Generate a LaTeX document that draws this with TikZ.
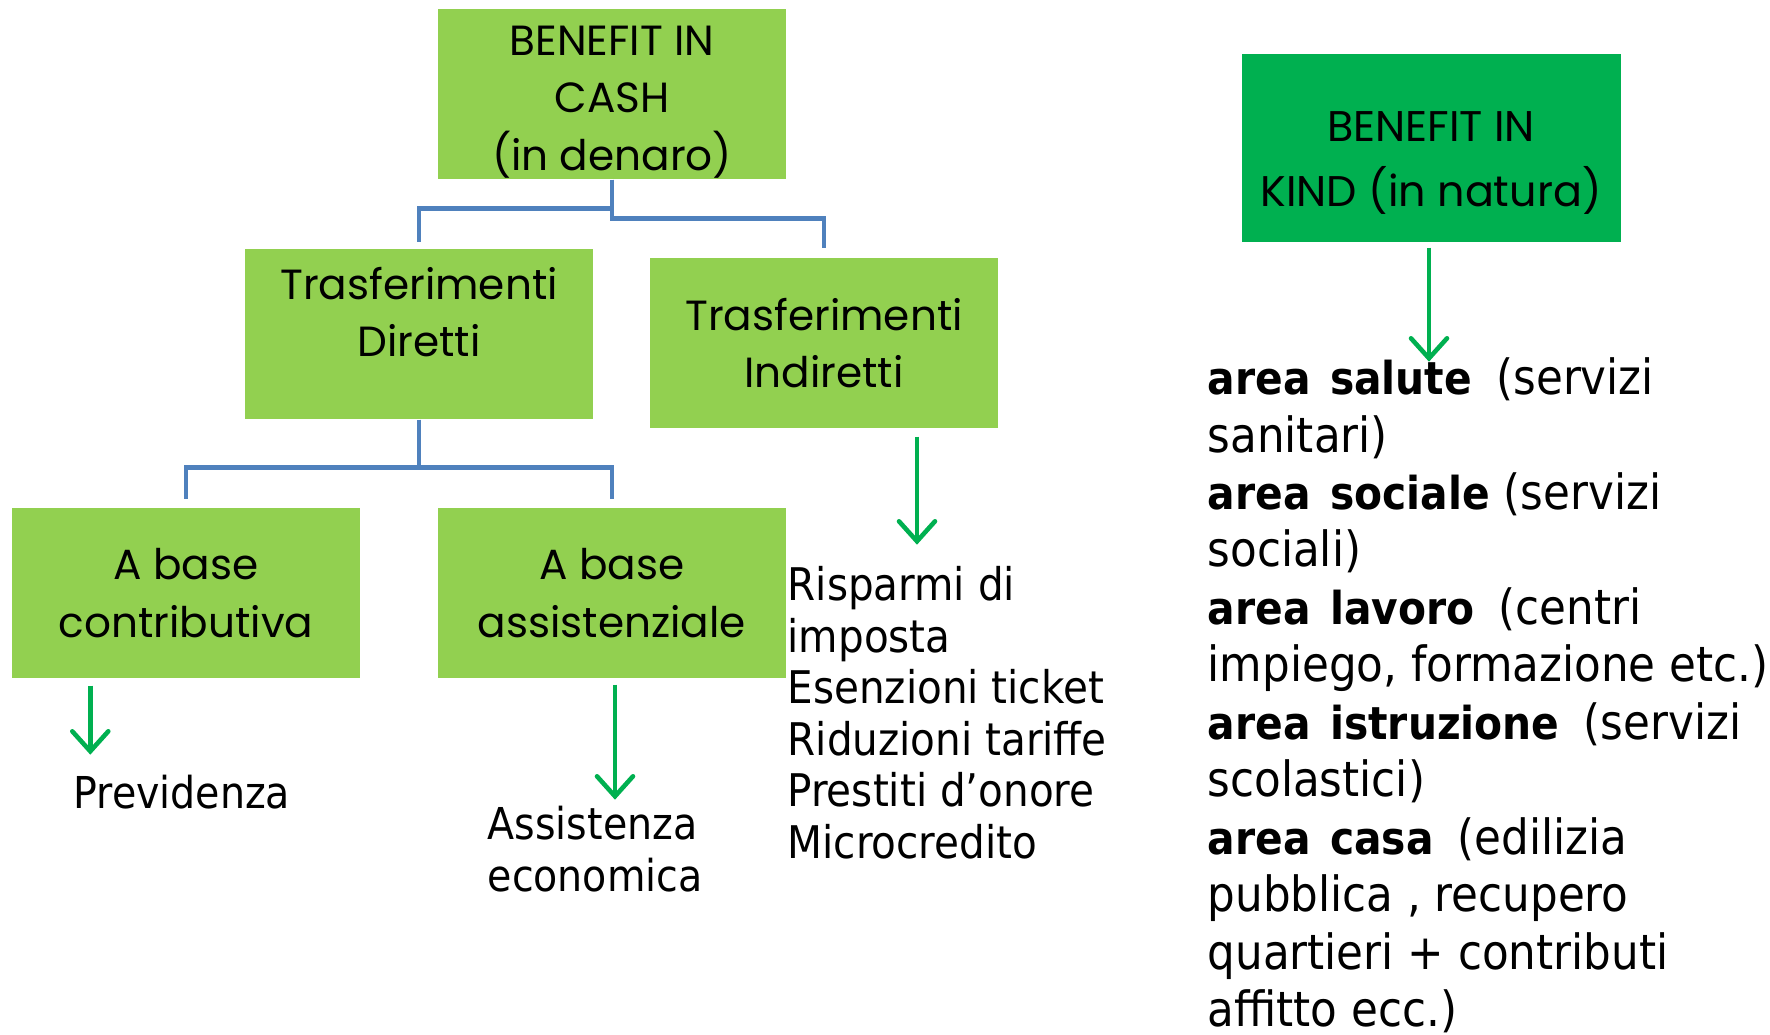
\documentclass[tikz,border=0pt]{standalone}
\usepackage{fontspec}
\usepackage{tikz}
\usetikzlibrary{calc,arrows.meta}
\newfontfamily\boxfont{Poppins}
\newfontfamily\listfont{DejaVu Sans Condensed}
\definecolor{lightgreen}{HTML}{92D050}
\definecolor{darkgreen}{HTML}{00B050}
\definecolor{treeblue}{HTML}{4F81BD}
\newcommand{\areab}[1]{{\fontsize{12.9}{16.4}\selectfont\bfseries area\hspace{.12em} #1}}

\begin{document}
\begin{tikzpicture}[x=0.1mm,y=-0.1mm,
    boxtxt/.style={align=center,inner sep=0pt,font=\boxfont\fontsize{12}{16.3}\selectfont},
    box/.style={boxtxt,fill=lightgreen,minimum width=34.8mm,minimum height=17mm},
    tree/.style={draw=treeblue,line width=1.4pt},
    arr/.style={draw=darkgreen,line width=1.3pt,-{Straight Barb[length=2mm,width=3.6mm,line cap=round]}},
    txt/.style={inner sep=0pt,anchor=north west,align=left}]
  \useasboundingbox (0,0) rectangle (1770,1035);
  % boxes
  \node[box,label={[boxtxt,yshift=-0.8mm]center:{BENEFIT IN\\CASH\\(in denaro)}}](cash)at(612,94){};
  \node[box,label={[boxtxt,yshift=2.2mm]center:{Trasferimenti\\Diretti}}](diretti)at(419,334){};
  \node[box](indiretti)at(824,343){Trasferimenti\\Indiretti};
  \node[box](contrib)at(186,593){A base\\contributiva};
  \node[box](assist)at(612,593){A base\\assistenziale};
  \node[box,fill=darkgreen,minimum width=37.9mm,minimum height=18.8mm,
    label={[boxtxt,font=\boxfont\fontsize{12.2}{18.5}\selectfont,yshift=-1.5mm]center:{BENEFIT IN\\KIND (in natura)}}](kind)at(1431,148){};
  % tree
  \draw[tree,shorten >=0.6mm](cash.south)--++(0,29)-|(diretti.north);
  \draw[tree,shorten >=0.9mm](cash.south)--++(0,39)-|(indiretti.north);
  \draw[tree,shorten >=0.8mm](diretti.south)--++(0,48)-|(contrib.north);
  \draw[tree,shorten >=0.8mm](diretti.south)--++(0,48)-|(assist.north);
  % texts
  \node[inner sep=0pt,anchor=base west,font=\listfont\fontsize{12.5}{14.6}\selectfont](previdenza)at(73,808){Previdenza};
  \node[txt,font=\listfont\fontsize{12.5}{14.8}\selectfont](assistenza)at(487,805){Assistenza\\economica};
  \node[txt,font=\listfont\fontsize{12.8}{14.65}\selectfont](risparmi)at(787,566){Risparmi di\\imposta\\Esenzioni ticket\\Riduzioni tariffe\\Prestiti d’onore\\Microcredito};
  \node[txt,font=\listfont\fontsize{13.8}{16.35}\selectfont](aree)at(1207,357){\areab{salute}\hspace{.5em}(servizi\\sanitari)\\\areab{sociale} (servizi\\sociali)\\\areab{lavoro}\hspace{.5em}(centri\\impiego, formazione etc.)\\\areab{istruzione}\hspace{.5em}(servizi\\scolastici)\\\areab{casa}\hspace{.5em}(edilizia\\pubblica , recupero\\quartieri + contributi\\affitto ecc.)};
  % arrows
  \draw[arr](contrib.south west)++(79,7)--++(0,69);
  \draw[arr](assist.south)++(3,6)--++(0,115);
  \draw[arr](indiretti.south)++(93,8)--++(0,108);
  \draw[arr](kind.south)++(-2,5)--++(0,114);
\end{tikzpicture}
\end{document}
